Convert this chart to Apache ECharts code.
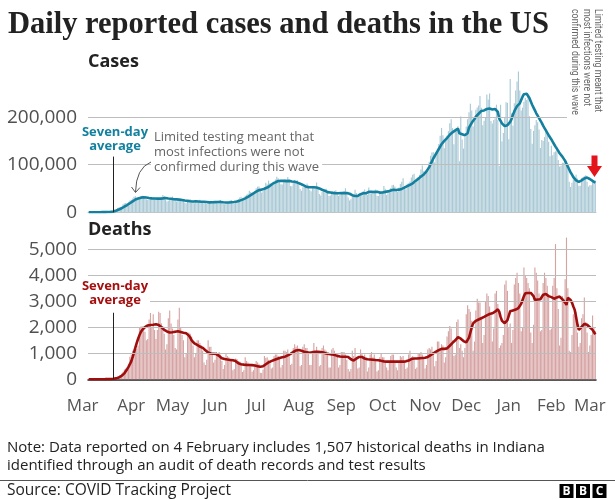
<!DOCTYPE html>
<html><head><meta charset="utf-8">
<script src="https://cdn.jsdelivr.net/npm/echarts@6/dist/echarts.min.js"></script>
<style>html,body{margin:0;padding:0;background:#fff}#c{width:615px;height:500px}</style>
</head><body><div id="c"></div>
<script>
// ---------- DATA ----------
const startDate = [2020, 2, 1]; // 1 March 2020, first day shown
const monthNames = ['Jan','Feb','Mar','Apr','May','Jun','Jul','Aug','Sep','Oct','Nov','Dec'];
const casesTicks = [0, 100, 200];              // thousands
const deathsTicks = [0, 1000, 2000, 3000, 4000, 5000];

// daily reported cases, thousands (one row = one week, Sun..Sat)
const casesDaily = [
0,0.1,0.1,0.1,0.1,0.2,0.3,
0.2,0.3,0.3,0.4,0.6,0.7,0.9,
1.0,1.3,1.8,2.9,4.5,5.8,7.0,
9.3,10.1,10.8,11.9,17.0,18.7,19.6,
19.4,22.0,24.6,26.6,28.9,32.7,33.9,
26.8,29.7,30.5,31.8,35.0,33.7,30.9,
27.5,25.6,27.0,29.4,31.1,32.1,29.5,
26.1,26.1,27.6,28.6,31.5,36.2,34.0,
26.6,22.9,24.5,27.3,29.6,33.2,29.5,
25.3,22.6,23.8,24.8,28.4,27.7,26.0,
20.5,18.9,22.2,20.9,27.5,26.0,24.0,
18.8,21.0,20.3,21.6,26.6,23.4,22.4,
20.0,18.9,17.9,20.6,22.1,24.2,24.0,
20.6,20.0,19.5,20.9,21.5,26.1,22.0,
17.7,17.0,18.8,21.1,22.5,25.2,25.6,
19.0,18.0,23.0,26.2,27.8,31.3,32.9,
27.0,26.7,34.7,37.0,39.1,45.3,42.8,
40.4,39.6,45.0,50.3,53.8,54.1,47.9,
41.6,45.4,53.2,62.2,59.0,66.6,61.1,
58.3,60.2,65.4,68.9,74.7,71.6,63.7,
59.1,58.6,64.5,70.2,68.8,74.0,66.0,
55.1,54.7,61.5,68.0,64.7,67.2,58.4,
48.7,45.3,52.4,54.6,56.2,60.6,56.0,
47.4,44.0,54.2,52.4,52.3,62.6,52.1,
38.4,35.5,43.4,44.6,46.9,49.3,44.5,
34.0,35.1,38.5,42.4,44.8,46.1,43.2,
34.2,36.4,40.8,42.5,44.6,50.4,41.4,
31.1,24.8,27.3,34.3,36.5,47.2,40.5,
33.3,36.2,39.0,39.0,44.6,47.7,41.4,
36.6,52.0,38.6,39.2,43.4,46.4,47.9,
34.8,34.4,44.3,39.7,43.5,55.0,49.5,
36.4,40.0,44.9,51.0,57.0,57.8,54.3,
45.8,42.7,52.3,59.5,64.0,71.7,55.2,
48.4,59.9,61.2,64.5,73.1,79.1,81.1,
61.6,66.8,74.2,79.0,89.9,98.5,86.3,
78.3,84.5,92.3,106.1,118.8,125.6,126.1,
105.0,119.4,133.5,143.4,160.9,177.2,161.9,
134.3,156.4,160.7,170.5,187.2,195.5,176.8,
143.0,171.1,171.7,181.0,107.0,201.0,152.9,
133.9,157.8,180.0,195.7,210.2,227.8,213.9,
180.2,194.4,215.4,220.2,224.4,244.2,219.5,
182.8,192.3,198.4,247.4,236.9,249.7,191.9,
186.4,193.7,197.4,226.1,193.9,97.6,226.2,
149.0,166.7,199.3,231.3,230.0,153.6,280.0,
208.0,182.0,229.0,255.7,274.7,296.0,256.0,
214.0,220.0,232.0,240.0,236.0,244.0,202.0,
175.0,144.0,171.0,183.0,194.0,189.0,174.0,
135.0,152.0,150.0,158.0,172.0,168.0,148.0,
118.0,140.0,120.0,126.0,128.0,138.0,110.0,
96.0,98.0,104.0,104.0,112.0,108.0,92.0,
64.0,53.0,62.0,69.0,70.0,79.0,71.0,
56.0,56.0,72.0,74.0,76.0,78.0,64.0,
54.0,57.0,57.0,67.0,66.0,67.0
];

// seven-day average of cases, thousands
const casesAvg = [
0,0,0,0.1,0.1,0.1,0.1,
0.2,0.2,0.2,0.3,0.3,0.4,0.5,
0.6,0.7,0.9,1.3,1.8,2.5,3.4,
4.6,5.9,7.2,8.5,10.2,12.1,13.9,
15.3,17.0,19.0,21.1,22.8,24.9,26.9,
28.0,29.1,30.0,30.8,31.6,31.7,31.3,
31.1,30.6,30.1,29.8,29.3,29.1,28.9,
28.7,28.7,28.8,28.7,28.7,29.3,29.9,
30.0,29.5,29.1,28.9,28.6,28.2,27.5,
27.3,27.2,27.1,26.7,26.5,25.8,25.4,
24.7,24.2,24.0,23.4,23.3,23.1,22.8,
22.6,22.9,22.6,22.7,22.6,22.2,22.0,
22.2,21.9,21.6,21.5,20.9,21.0,21.2,
21.3,21.4,21.6,21.6,21.5,21.8,21.5,
21.1,20.7,20.6,20.6,20.7,20.6,21.1,
21.3,21.5,22.1,22.9,23.6,24.5,25.5,
26.6,27.8,29.4,31.0,32.6,34.7,36.1,
38.0,39.8,41.3,43.2,45.3,46.6,47.4,
47.6,48.4,49.6,51.3,52.0,53.8,55.7,
58.0,60.1,61.8,62.8,65.1,65.8,66.2,
66.3,66.1,66.0,66.2,65.5,65.7,66.0,
65.4,64.8,64.4,64.1,63.5,62.4,61.3,
60.1,58.8,57.4,55.4,54.3,53.3,52.9,
52.7,52.5,52.8,52.5,51.9,52.2,51.6,
50.2,48.9,47.3,46.1,45.4,43.4,42.4,
41.8,41.7,41.1,40.8,40.5,40.1,39.9,
39.9,40.0,40.3,40.3,40.3,40.9,40.7,
40.3,39.0,37.1,35.9,34.9,34.4,34.3,
34.6,36.3,38.0,38.7,39.9,40.0,40.1,
40.6,42.9,42.9,42.9,42.8,42.6,43.5,
43.2,40.6,41.4,41.5,41.5,42.7,42.9,
43.1,43.9,44.0,45.6,47.0,47.3,47.5,
47.0,47.2,47.6,48.2,49.2,50.6,51.8,
53.0,54.8,56.3,57.8,59.3,60.8,62.8,
65.8,68.0,70.2,72.8,75.0,77.2,79.3,
82,86,90,95,101,107,113,
118,123,128,133,138,143,147,
150,153,156,160,163,166,168,
170,172,174,176,166,167,164,
163,162,163,166,178,182,188,
192,196,201,205,207,210,213,
214,214,213,217,218,218,216,
216,217,217,215,211,197,192,
187,184,181,182,183,184,190,
196,205,212,218,223,227,229,
236,243,248,250,249,246,240,
233,226,220,214,208,203,198,
194,188,182,177,172,167,162,
158,153,148,143,138,134,129,
124,121,117,113,108,102,96,
90,84,79,74,70,67,64,
64,65,67,69,71,72,73,
72,70,68,66,64,62
];

// daily reported deaths
const deathsDaily = [
0,1,2,2,1,2,3,
4,4,4,7,6,10,12,
13,18,25,30,45,60,60,
100,130,170,220,290,380,420,
370,570,870,950,1100,1150,1300,
1170,1300,2000,2030,2040,2030,1830,
1500,1550,2300,2550,2000,2500,1900,
1550,1900,2600,2550,2150,2050,1750,
1150,1350,2350,2650,2150,1950,1700,
1200,1150,2300,2750,2000,1700,1500,
850,1000,1700,1800,1750,1650,1300,
850,1000,1500,1500,1400,1300,1100,
650,550,750,1500,1250,1250,1000,
650,750,1050,1000,1050,950,700,
400,550,1000,900,850,750,700,
350,400,800,780,700,680,580,
280,350,850,700,650,600,500,
290,350,600,700,650,600,250,
240,380,900,820,850,750,700,
420,450,900,950,950,900,800,
450,550,1100,1100,1050,1150,950,
550,600,1200,1350,1250,1300,1050,
500,550,1250,1350,1200,1200,1000,
550,550,1100,1400,1050,1250,1000,
500,550,1200,1300,1150,1100,1000,
450,450,1150,1200,1100,950,950,
450,550,1050,1050,1050,950,750,
400,300,400,1100,900,1200,800,
420,450,1150,1000,850,950,750,
300,450,950,1050,850,950,750,
300,350,850,1000,850,850,700,
450,350,650,900,950,950,650,
450,350,700,900,850,900,700,
400,450,950,1100,850,900,800,
400,450,1000,1000,1050,950,850,
420,550,1150,1200,1150,1250,1000,
500,700,1450,1450,1200,1350,1300,
650,850,1650,1850,2050,1950,1500,
900,950,2200,2300,1200,1350,1100,
850,1200,2500,2850,2700,2600,2250,
1100,1450,2650,3100,2950,2950,2300,
1400,1700,3000,3300,3200,2800,2500,
1450,1950,3300,3400,2900,1200,1300,
1400,1700,3650,3800,3400,2000,2150,
1400,1900,3650,3900,4100,3700,3300,
1850,2000,4300,4000,3900,3700,3500,
1800,1400,2100,4300,4100,3800,3300,
1850,1900,3700,4100,3900,3600,3200,
1900,1950,3600,3900,5200,3500,2700,
1300,1600,3200,3100,3850,5450,3500,
1100,1050,1700,2500,2450,2600,1800,
1250,1400,2350,2500,3150,2200,1800,
1050,1300,1700,2450,2000,1850
];

// seven-day average of deaths
const deathsAvg = [
0,0,0,0,1,1,1,
2,2,3,3,4,5,6,
8,10,13,17,22,28,35,
50,70,95,130,170,230,300,
390,480,580,690,850,1030,1220,
1400,1560,1700,1820,1900,1960,2010,
2040,2070,2080,2090,2090,2100,2110,
2120,2110,2090,2050,2000,1950,1900,
1870,1840,1820,1800,1800,1810,1820,
1830,1840,1850,1840,1820,1800,1790,
1780,1770,1740,1680,1600,1500,1430,
1380,1350,1320,1290,1260,1240,1210,
1170,1120,1070,1030,1000,990,980,
980,975,970,950,900,850,810,
790,780,770,760,750,745,740,
730,720,700,660,620,590,580,
570,565,560,555,550,550,550,
545,540,530,520,505,490,480,
480,500,540,580,620,650,680,
700,720,740,760,780,800,820,
840,850,860,870,890,920,950,
980,1010,1050,1080,1110,1130,1130,
1120,1100,1080,1060,1050,1040,1030,
1020,1030,1040,1050,1060,1060,1060,
1060,1050,1040,1030,1010,990,970,
970,970,960,950,940,920,900,
890,880,880,870,870,870,870,
860,830,770,730,720,740,800,
840,860,870,860,830,800,780,
770,765,760,755,750,745,740,
740,735,725,710,700,690,685,
680,680,680,680,680,680,680,
680,680,680,680,680,680,685,
690,700,720,750,780,800,800,
800,800,805,810,815,820,825,
830,840,860,890,930,970,1000,
1030,1060,1090,1120,1150,1170,1190,
1170,1180,1190,1230,1290,1350,1400,
1450,1500,1560,1620,1640,1560,1500,
1470,1440,1420,1460,1600,1800,2000,
2150,2200,2250,2280,2300,2320,2350,
2370,2400,2430,2460,2490,2510,2530,
2540,2560,2600,2650,2690,2600,2400,
2250,2180,2160,2200,2280,2450,2620,
2640,2650,2660,2680,2700,2740,2790,
2900,3050,3200,3310,3320,3320,3320,
3320,3310,3200,3050,3060,3070,3080,
3080,3150,3250,3310,3280,3230,3200,
3180,3160,3130,3100,3080,3150,3220,
3180,3130,3080,3050,2950,2860,3140,
3120,3050,2950,2800,2670,2400,2100,
1900,1950,2020,2080,2130,2150,2100,
2050,2000,1960,1900,1820,1730
];

const leaderDate = '2020-03-19';   // date marked by the "Seven-day average" leader lines
const leaderTopCases = 117;        // thousands
const leaderTopDeaths = 2560;

// ---------- categories ----------
const days = [];
(function () {
  const t0 = Date.UTC(startDate[0], startDate[1], startDate[2]);
  for (let i = 0; i < casesDaily.length; i++) {
    days.push(new Date(t0 + i * 86400000).toISOString().slice(0, 10));
  }
})();

const SANS = '"Open Sans", "Noto Sans", sans-serif';
const chart = echarts.init(document.getElementById('c'), null, { renderer: 'canvas' });

const gridLine = (ticks) => ({
  silent: true, symbol: 'none', animation: false,
  label: { show: false },
  lineStyle: { color: '#bdbdbd', width: 1, type: 'solid' },
  data: ticks.filter(v => v > 0).map(v => ({ yAxis: v }))
});
const leader = (top) => ({
  silent: true, symbol: 'none', animation: false,
  label: { show: false },
  lineStyle: { color: '#222', width: 1, type: 'solid' },
  data: [[{ coord: [leaderDate, 0] }, { coord: [leaderDate, top] }]]
});

const option = {
  animation: false,
  backgroundColor: '#fff',
  grid: [
    { left: 88, top: 69.5, width: 508, height: 142.8 },
    { left: 88, top: 236.3, width: 508, height: 143 }
  ],
  xAxis: [
    { type: 'category', gridIndex: 0, data: days,
      axisLine: { lineStyle: { color: '#c4c4c4', width: 1 } },
      axisTick: { show: false }, axisLabel: { show: false } },
    { type: 'category', gridIndex: 1, data: days,
      axisLine: { lineStyle: { color: '#222', width: 1.5 } },
      axisTick: { show: false },
      axisLabel: {
        interval: (i, v) => v.slice(8) === '01',
        formatter: (v, i) => {
          const m = monthNames[+v.slice(5, 7) - 1];
          return i === 0 ? '{first|' + m + '}' : m;
        },
        rich: { first: { padding: [0, 12, 0, 0], fontSize: 17, color: '#555', fontFamily: SANS } },
        fontSize: 17, color: '#555', fontFamily: SANS, margin: 18
      } }
  ],
  yAxis: [
    { type: 'value', gridIndex: 0, min: 0, max: 300,
      axisLine: { show: false }, axisTick: { show: false }, splitLine: { show: false },
      axisLabel: { customValues: casesTicks, formatter: v => v === 0 ? '0' : (v * 1000).toLocaleString('en-US'),
        fontSize: 19, color: '#505050', fontFamily: SANS, margin: 11 } },
    { type: 'value', gridIndex: 1, min: 0, max: 5500,
      axisLine: { show: false }, axisTick: { show: false }, splitLine: { show: false },
      axisLabel: { customValues: deathsTicks, formatter: v => v.toLocaleString('en-US'),
        fontSize: 19, color: '#505050', fontFamily: SANS, margin: 11 } }
  ],
  series: [
    { type: 'bar', xAxisIndex: 0, yAxisIndex: 0, data: casesDaily, barCategoryGap: '18%',
      itemStyle: { color: '#aac9d5' }, z: 2, markLine: gridLine(casesTicks) },
    { type: 'line', xAxisIndex: 0, yAxisIndex: 0, data: casesAvg, symbol: 'none', z: 4,
      lineStyle: { color: '#13809f', width: 2.6 }, markLine: leader(leaderTopCases) },
    { type: 'bar', xAxisIndex: 1, yAxisIndex: 1, data: deathsDaily, barCategoryGap: '18%',
      itemStyle: { color: '#d6a3a3' }, z: 2, markLine: gridLine(deathsTicks) },
    { type: 'line', xAxisIndex: 1, yAxisIndex: 1, data: deathsAvg, symbol: 'none', z: 4,
      lineStyle: { color: '#a00d0d', width: 2.6 }, markLine: leader(leaderTopDeaths) }
  ],
  graphic: [
    { type: 'text', x: 8, y: 25, z: 100, style: { text: 'Daily reported cases and deaths in the US',
      fill: '#222', fontSize: 30.5, fontWeight: 'bold', fontFamily: '"Liberation Serif", serif',
      align: 'left', verticalAlign: 'middle', textAlign: 'left', textVerticalAlign: 'middle' } },
    { type: 'text', x: 88, y: 61.5, z: 100, style: { text: 'Cases', fill: '#222', fontSize: 18, fontWeight: 'bold',
      fontFamily: SANS, align: 'left', verticalAlign: 'middle', textAlign: 'left', textVerticalAlign: 'middle' } },
    { type: 'text', x: 88, y: 230, z: 100, style: { text: 'Deaths', fill: '#222', fontSize: 18, fontWeight: 'bold',
      fontFamily: SANS, align: 'left', verticalAlign: 'middle', textAlign: 'left', textVerticalAlign: 'middle' } },
    { type: 'text', x: 115, y: 125.5, z: 100, style: { text: 'Seven-day\naverage', fill: '#13809f', fontSize: 13,
      fontWeight: 'bold', lineHeight: 13.7, fontFamily: SANS, align: 'center', verticalAlign: 'top',
      textAlign: 'center', textVerticalAlign: 'top', backgroundColor: '#fff', padding: [0, 2] } },
    { type: 'text', x: 115, y: 280, z: 100, style: { text: 'Seven-day\naverage', fill: '#a50f0f', fontSize: 13,
      fontWeight: 'bold', lineHeight: 13.5, fontFamily: SANS, align: 'center', verticalAlign: 'top',
      textAlign: 'center', textVerticalAlign: 'top', backgroundColor: '#fff', padding: [0, 2, 1, 2] } },
    { type: 'text', x: 151, y: 129.5, z: 100, style: { text: 'Limited testing meant that\nmost infections were not\nconfirmed during this wave',
      fill: '#666', fontSize: 13, lineHeight: 15, fontFamily: SANS, align: 'left', verticalAlign: 'top',
      textAlign: 'left', textVerticalAlign: 'top', backgroundColor: '#fff', padding: [0, 3] } },
    { type: 'bezierCurve', z: 100, shape: { x1: 151, y1: 162, x2: 135.5, y2: 192, cpx1: 136, cpy1: 168 },
      style: { stroke: '#555', lineWidth: 1, fill: null } },
    { type: 'polyline', z: 100, shape: { points: [[131.5, 187], [135.5, 192.5], [140, 187.5]] },
      style: { stroke: '#555', lineWidth: 1, fill: null } },
    { type: 'rect', z: 90, shape: { x: 567, y: 0, width: 40, height: 120 }, style: { fill: '#fff' } },
    { type: 'text', x: 603.5, y: 9, rotation: -Math.PI / 2, scaleX: 0.84, z: 100,
      style: { text: 'Limited testing meant that\nmost infections were not\nconfirmed during this wave',
        fill: '#666', fontSize: 10.5, lineHeight: 11.5, fontFamily: 'Roboto, sans-serif',
        align: 'left', verticalAlign: 'top', textAlign: 'left', textVerticalAlign: 'top' } },
    { type: 'polygon', z: 100, shape: { points: [[591.5, 155.5], [597.5, 155.5], [597.5, 166], [602, 166], [594.5, 177], [587, 166], [591.5, 166]] },
      style: { fill: '#e3151a' } },
    { type: 'text', x: 7, y: 447.5, z: 100, style: { text: 'Note: Data reported on 4 February includes 1,507 historical deaths in Indiana',
      fill: '#222', fontSize: 15, fontFamily: SANS, align: 'left', verticalAlign: 'middle', textAlign: 'left', textVerticalAlign: 'middle' } },
    { type: 'text', x: 7, y: 466, z: 100, style: { text: 'identified through an audit of death records and test results',
      fill: '#222', fontSize: 15, fontFamily: SANS, align: 'left', verticalAlign: 'middle', textAlign: 'left', textVerticalAlign: 'middle' } },
    { type: 'line', z: 100, shape: { x1: 0, y1: 480.5, x2: 615, y2: 480.5 }, style: { stroke: '#555', lineWidth: 1 } },
    { type: 'text', x: 7, y: 491, z: 100, style: { text: 'Source: COVID Tracking Project',
      fill: '#222', fontSize: 15.5, fontFamily: SANS, align: 'left', verticalAlign: 'middle', textAlign: 'left', textVerticalAlign: 'middle' } },
    { type: 'rect', z: 100, shape: { x: 559.5, y: 484, width: 14, height: 14 }, style: { fill: '#000' } },
    { type: 'rect', z: 100, shape: { x: 576, y: 484, width: 14, height: 14 }, style: { fill: '#000' } },
    { type: 'rect', z: 100, shape: { x: 592.5, y: 484, width: 14, height: 14 }, style: { fill: '#000' } },
    { type: 'text', x: 566.5, y: 491.5, z: 101, style: { text: 'B', fill: '#fff', fontSize: 12, fontWeight: 'bold', fontFamily: SANS,
      align: 'center', verticalAlign: 'middle', textAlign: 'center', textVerticalAlign: 'middle' } },
    { type: 'text', x: 583, y: 491.5, z: 101, style: { text: 'B', fill: '#fff', fontSize: 12, fontWeight: 'bold', fontFamily: SANS,
      align: 'center', verticalAlign: 'middle', textAlign: 'center', textVerticalAlign: 'middle' } },
    { type: 'text', x: 599.5, y: 491.5, z: 101, style: { text: 'C', fill: '#fff', fontSize: 12, fontWeight: 'bold', fontFamily: SANS,
      align: 'center', verticalAlign: 'middle', textAlign: 'center', textVerticalAlign: 'middle' } }
  ]
};
chart.setOption(option);
</script>
</body></html>
